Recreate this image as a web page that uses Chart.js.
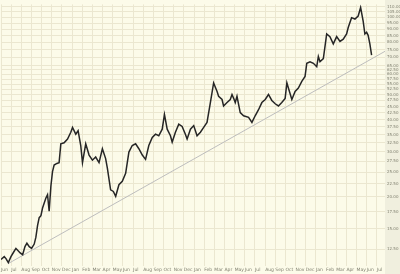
<!DOCTYPE html>
<html>
<head>
<meta charset="utf-8">
<script src="https://cdn.jsdelivr.net/npm/chart.js@4/dist/chart.umd.min.js"></script>
<style>
  html, body { margin: 0; padding: 0; background: #fcfbe9; }
  #chart { display: block; }
</style>
</head>
<body>
<canvas id="chart" width="400" height="274"></canvas>
<script>
// month labels, one per month starting Jun of year 1
var monthNames = ['Jun','Jul','Aug','Sep','Oct','Nov','Dec','Jan','Feb','Mar','Apr','May',
	'Jun','Jul','Aug','Sep','Oct','Nov','Dec','Jan','Feb','Mar','Apr','May',
	'Jun','Jul','Aug','Sep','Oct','Nov','Dec','Jan','Feb','Mar','Apr','May','Jun','Jul'];

// price axis tick values
var priceTicks = [12.5, 15, 17.5, 20, 22.5, 25, 27.5, 30, 32.5, 35, 37.5, 40, 42.5, 45, 47.5,
	50, 52.5, 55, 57.5, 60, 62.5, 65, 70, 75, 80, 85, 90, 95, 100, 105, 110];

// time in months since start of first Jun
var months = [0.00,0.32,0.49,0.72,0.98,1.25,1.47,1.64,1.89,2.13,2.36,2.55,2.78,3.01,3.27,3.43,3.60,3.76,3.93,4.09,
	4.42,4.58,4.74,4.91,5.07,5.23,5.50,5.72,5.89,6.21,6.55,6.87,7.04,7.36,7.59,7.85,8.02,8.34,8.67,9.00,
	9.32,9.65,9.98,10.30,10.47,10.79,11.06,11.29,11.61,11.94,12.27,12.59,12.92,13.25,13.57,13.91,14.23,14.55,14.89,15.21,
	15.53,15.87,16.09,16.36,16.68,16.85,17.17,17.50,17.83,18.15,18.32,18.65,18.97,19.30,19.63,19.95,20.28,20.61,20.93,21.27,
	21.42,21.76,21.91,22.25,22.57,22.74,22.90,23.06,23.23,23.55,23.88,24.37,24.70,25.02,25.35,25.68,26.01,26.33,26.66,26.99,
	27.31,27.64,27.97,28.14,28.29,28.63,28.95,29.27,29.61,29.93,30.10,30.42,30.75,31.08,31.24,31.40,31.73,32.06,32.38,32.71,
	33.04,33.37,33.69,34.02,34.18,34.51,34.84,35.16,35.40,35.65,35.82,35.99,36.14,36.31,36.48];

var prices = [11.4,11.7,11.5,11.1,11.7,12.2,12.6,12.4,12.1,11.9,12.8,13.2,12.8,12.6,13.1,13.9,15.5,16.6,16.9,18.1,
	19.8,20.4,17.6,22.0,25.1,26.6,27.0,27.2,32.2,32.5,33.6,35.7,37.3,35.1,36.2,31.7,27.2,32.2,29.1,27.8,
	28.6,27.2,30.8,28.2,25.9,21.3,21.0,20.1,22.3,23.0,24.7,29.9,31.7,32.2,30.8,29.1,28.0,31.7,34.1,35.1,
	34.6,36.7,41.9,36.7,34.6,32.7,35.7,38.4,37.6,35.1,33.6,36.7,37.9,34.6,35.7,37.3,39.0,46.6,55.6,51.5,
	49.3,47.9,45.2,46.6,47.9,50.1,48.4,46.6,49.3,42.6,41.4,40.8,39.0,41.4,43.7,46.6,47.9,50.1,47.5,46.1,
	45.2,46.6,48.4,55.6,53.1,47.9,51.5,53.1,56.4,58.9,66.3,67.2,66.3,64.3,70.4,67.2,69.1,86.2,84.2,78.9,
	84.2,80.6,82.3,86.2,91.4,99.8,98.6,101.3,109.3,96.7,86.2,87.5,85.2,78.9,71.3];

// support trend line end points
var trendMonths = [0.72, 37.8];
var trendPrices = [11.0, 73.8];

var bgPlugin = {
	id: 'bg',
	beforeDraw: function (chart) {
		var ctx = chart.ctx;
		var a = chart.chartArea;
		ctx.save();
		ctx.fillStyle = '#fcfbe9';
		ctx.fillRect(0, 0, chart.width, chart.height);
		ctx.fillStyle = '#f0efde';
		ctx.fillRect(a.right, 0, chart.width - a.right, chart.height);
		ctx.restore();
	}
};

var ctx = document.getElementById('chart').getContext('2d');
var chart = new Chart(ctx, {
	type: 'line',
	data: {
		datasets: [{
			data: months.map(function (m, i) { return {x: m, y: prices[i]}; }),
			borderColor: '#262626',
			borderWidth: 1.5,
			pointRadius: 0,
			tension: 0
		}, {
			data: trendMonths.map(function (m, i) { return {x: m, y: trendPrices[i]}; }),
			borderColor: '#bdbdbd',
			borderWidth: 1,
			pointRadius: 0
		}]
	},
	options: {
		responsive: false,
		animation: false,
		devicePixelRatio: 1,
		layout: { padding: 0 },
		plugins: {
			legend: { display: false },
			tooltip: { enabled: false }
		},
		scales: {
			x: {
				type: 'linear',
				min: 0,
				max: 37.8,
				afterBuildTicks: function (scale) {
					scale.ticks = monthNames.map(function (n, i) { return {value: i}; });
				},
				afterFit: function (scale) { scale.height = 8; },
				ticks: {
					autoSkip: false,
					maxRotation: 0,
					align: 'start',
					padding: 1,
					color: '#808070',
					font: { family: 'DejaVu Sans', size: 4.5 },
					callback: function (v) { return monthNames[v]; }
				},
				grid: { color: '#ebe7d0', drawTicks: false },
				border: { display: false }
			},
			y: {
				type: 'logarithmic',
				position: 'right',
				min: 10.76,
				max: 112.4,
				afterBuildTicks: function (scale) {
					scale.ticks = priceTicks.map(function (v) { return {value: v}; });
				},
				afterFit: function (scale) { scale.width = 15; },
				ticks: {
					padding: 2,
					color: '#808070',
					font: { family: 'DejaVu Sans', size: 4 },
					callback: function (v) { return Number(v).toFixed(2); }
				},
				grid: { color: '#ebe7d0', drawTicks: false },
				border: { display: false }
			}
		}
	},
	plugins: [bgPlugin]
});
</script>
</body>
</html>
